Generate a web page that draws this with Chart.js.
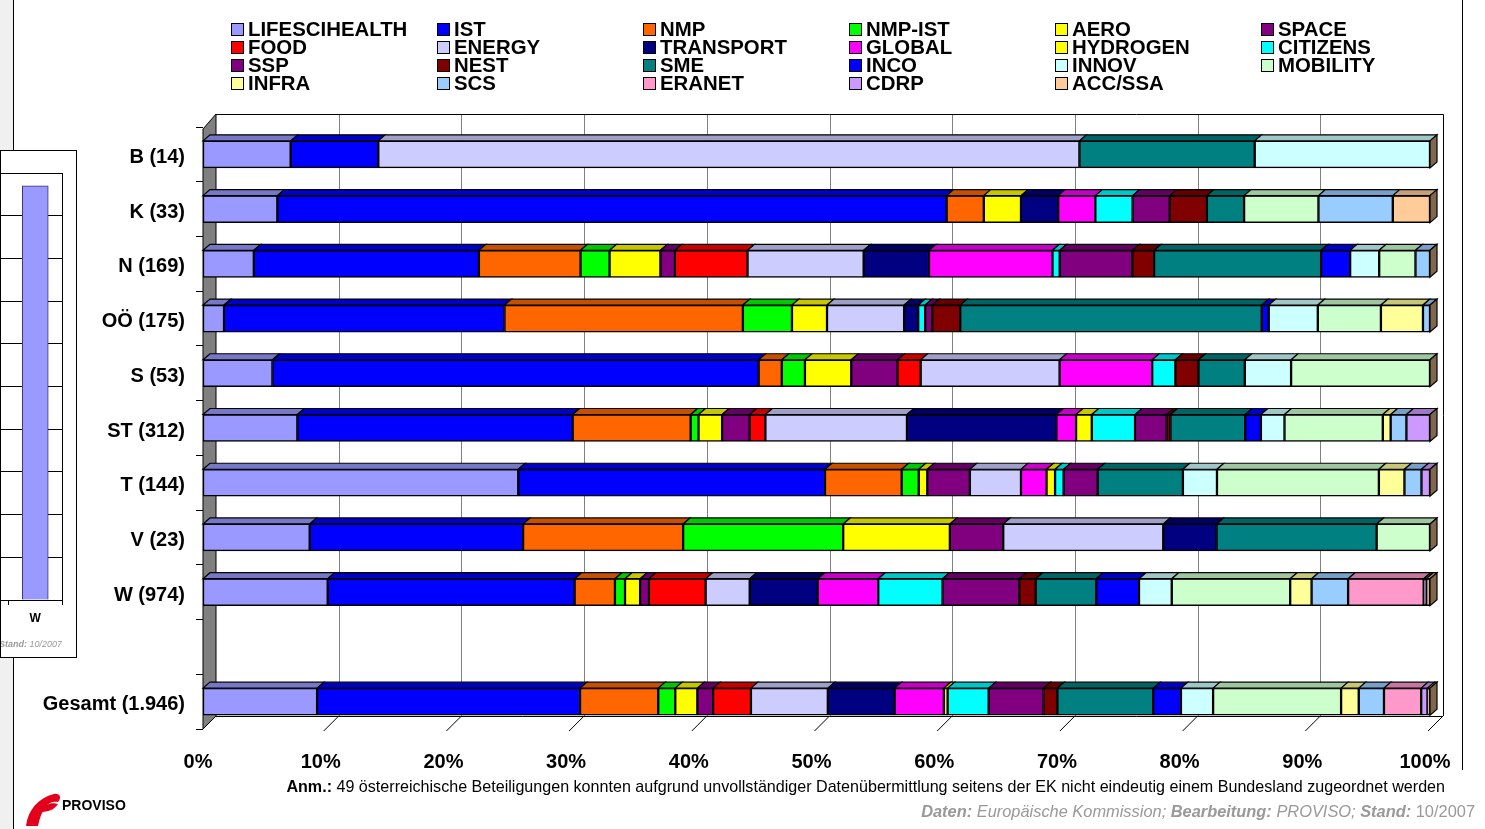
<!DOCTYPE html>
<html>
<head>
<meta charset="utf-8">
<script src="https://cdn.jsdelivr.net/npm/chart.js@4.4.0/dist/chart.umd.min.js"></script>
<style>
  html, body { margin: 0; padding: 0; background: #fff; }
  body { width: 1485px; height: 829px; position: relative; overflow: hidden; font-family: "Liberation Sans", Arial, sans-serif; }
  #leftStrip { position: absolute; left: 0; top: 0; width: 13px; height: 829px; background: #f0f0f0; border-right: 1px solid #000; }
  #rightLine { position: absolute; left: 1462px; top: 0; width: 1px; height: 770px; background: #000; }
  #main { position: absolute; left: 0; top: 0; width: 1485px; height: 829px; }
  #legend { position: absolute; left: 231px; top: 20px; display: grid; grid-template-columns: repeat(6, 206px); grid-auto-rows: 18px; }
  .item { display: flex; align-items: center; font-weight: bold; font-size: 20.4px; line-height: 18px; color: #000; white-space: nowrap; }
  .box { width: 11px; height: 11px; border: 1.5px solid #000; margin-right: 4px; flex: none; }
  #mini { position: absolute; left: 0; top: 150px; width: 75px; height: 506px; border: 1px solid #000; background: #fff; overflow: hidden; }
  #miniWrap { position: absolute; left: -140px; top: 0; width: 215px; height: 506px; }
  #miniStand { position: absolute; right: 14px; top: 488px; font-size: 9px; font-style: italic; color: #999; white-space: nowrap; }
  #anm { position: absolute; right: 40px; top: 777px; font-size: 16.1px; color: #000; white-space: nowrap; }
  #daten { position: absolute; right: 10px; top: 802px; font-size: 16.4px; color: #999; font-style: italic; white-space: nowrap; }
  #daten span { font-style: normal; }
  #logo { position: absolute; left: 24px; top: 788px; }
  #logoText { position: absolute; left: 62px; top: 797px; font-size: 14px; font-weight: bold; color: #000; }
</style>
</head>
<body>
<div id="leftStrip"></div>
<div id="rightLine"></div>
<div id="mini">
  <div id="miniWrap"><canvas id="miniChart"></canvas></div>
  <div id="miniStand"><b>Stand:</b> 10/2007</div>
</div>
<div id="main"><canvas id="chart"></canvas></div>
<div id="legend"></div>
<div id="anm"><b>Anm.:</b> 49 österreichische Beteiligungen konnten aufgrund unvollständiger Datenübermittlung seitens der EK nicht eindeutig einem Bundesland zugeordnet werden</div>
<div id="daten"><b>Daten:</b> Europäische Kommission; <b>Bearbeitung:</b> PROVISO; <b>Stand:</b> <span>10/2007</span></div>
<svg id="logo" width="40" height="40" viewBox="0 0 40 40">
  <path d="M2 38 C4 22 14 10 30 6 C36 5 38 10 34 14 C26 12 18 18 14 38 Z" fill="#e3001b"/>
  <path d="M16 24 C20 16 28 14 34 16 C30 22 24 24 16 24 Z" fill="#e3001b"/>
</svg>
<div id="logoText">PROVISO</div>
<script>
// categories (empty slot = gap before the total)
const categories = ['B (14)', 'K (33)', 'N (169)', 'OÖ (175)', 'S (53)', 'ST (312)', 'T (144)', 'V (23)', 'W (974)', '', 'Gesamt (1.946)'];
const xTicks = [0, 10, 20, 30, 40, 50, 60, 70, 80, 90, 100];

// number of participations per programme, same order as categories
const LIFESCIHEALTH = [1, 2, 7, 3, 3, 24, 37, 2, 99, null, 181];
const IST           = [1, 18, 31, 40, 21, 70, 36, 4, 196, null, 417];
const NMP           = [0, 1, 14, 34, 1, 30, 9, 3, 32, null, 124];
const NMP_IST       = [0, 0, 4, 7, 1, 2, 2, 3, 8, null, 27];
const AERO          = [0, 1, 7, 5, 2, 6, 1, 2, 12, null, 35];
const SPACE         = [0, 0, 2, 0, 2, 7, 5, 1, 7, null, 25];
const FOOD          = [0, 0, 10, 0, 1, 4, 0, 0, 45, null, 60];
const ENERGY        = [8, 0, 16, 11, 6, 36, 6, 3, 35, null, 122];
const TRANSPORT     = [0, 1, 9, 2, 0, 38, 0, 1, 54, null, 106];
const GLOBAL        = [0, 1, 17, 0, 4, 5, 3, 0, 48, null, 78];
const HYDROGEN      = [0, 0, 0, 0, 0, 4, 1, 0, 0, null, 6];
const CITIZENS      = [0, 1, 1, 1, 1, 11, 1, 0, 51, null, 65];
const SSP           = [0, 1, 10, 1, 0, 8, 4, 0, 61, null, 87];
const NEST          = [0, 1, 3, 4, 1, 1, 0, 0, 13, null, 22];
const SME           = [2, 1, 23, 43, 2, 19, 10, 3, 48, null, 152];
const INCO          = [0, 0, 4, 1, 0, 4, 0, 0, 34, null, 44];
const INNOV         = [2, 0, 4, 7, 2, 6, 4, 0, 26, null, 51];
const MOBILITY      = [0, 2, 5, 9, 6, 25, 19, 1, 94, null, 203];
const INFRA         = [0, 0, 0, 6, 0, 2, 3, 0, 17, null, 28];
const SCS           = [0, 2, 2, 1, 0, 4, 2, 0, 29, null, 40];
const ERANET        = [0, 0, 0, 0, 0, 0, 0, 0, 60, null, 59];
const CDRP          = [0, 0, 0, 0, 0, 6, 1, 0, 2, null, 10];
const ACC_SSA       = [0, 1, 0, 0, 0, 0, 0, 0, 3, null, 4];

// small chart cut off at the left edge
const miniLabels = ['', 'W'];
const miniValues = [null, 97];

const series = [
  ['LIFESCIHEALTH', LIFESCIHEALTH, '#9999FF'],
  ['IST', IST, '#0000FF'],
  ['NMP', NMP, '#FF6600'],
  ['NMP-IST', NMP_IST, '#00FF00'],
  ['AERO', AERO, '#FFFF00'],
  ['SPACE', SPACE, '#800080'],
  ['FOOD', FOOD, '#FF0000'],
  ['ENERGY', ENERGY, '#CCCCFF'],
  ['TRANSPORT', TRANSPORT, '#000080'],
  ['GLOBAL', GLOBAL, '#FF00FF'],
  ['HYDROGEN', HYDROGEN, '#FFFF00'],
  ['CITIZENS', CITIZENS, '#00FFFF'],
  ['SSP', SSP, '#800080'],
  ['NEST', NEST, '#800000'],
  ['SME', SME, '#008080'],
  ['INCO', INCO, '#0000FF'],
  ['INNOV', INNOV, '#CCFFFF'],
  ['MOBILITY', MOBILITY, '#CCFFCC'],
  ['INFRA', INFRA, '#FFFF99'],
  ['SCS', SCS, '#99CCFF'],
  ['ERANET', ERANET, '#FF99CC'],
  ['CDRP', CDRP, '#CC99FF'],
  ['ACC/SSA', ACC_SSA, '#FFCC99']
];

const FONT = '"Liberation Sans", Arial, sans-serif';
const DX = 7, DY = 6;          // depth of the bars
const WX = 13, WY = 13;        // depth of walls / floor

// legend (html grid, 6 columns, row-wise like the original)
const legendEl = document.getElementById('legend');
series.forEach(s => {
  const d = document.createElement('div');
  d.className = 'item';
  d.innerHTML = '<span class="box" style="background:' + s[2] + '"></span>' + s[0];
  legendEl.appendChild(d);
});

// row totals -> shares in %
const totals = categories.map((c, i) => {
  let t = 0;
  series.forEach(s => { t += s[1][i] || 0; });
  return t;
});

function shade(hex, f) {
  const n = parseInt(hex.slice(1), 16);
  const r = Math.round(((n >> 16) & 255) * f);
  const g = Math.round(((n >> 8) & 255) * f);
  const b = Math.round((n & 255) * f);
  return 'rgb(' + r + ',' + g + ',' + b + ')';
}

const datasets = series.map(s => ({
  label: s[0],
  data: s[1].map((v, i) => (v ? v / totals[i] * 100 : null)),
  backgroundColor: s[2],
  borderColor: '#000',
  borderWidth: 1.5,
  borderSkipped: false,
  barThickness: 27
}));

// back wall, left wall and floor
const wallsPlugin = {
  id: 'walls',
  beforeDatasetsDraw(chart) {
    const ctx = chart.ctx;
    const a = chart.chartArea;
    const x = chart.scales.x;
    ctx.save();
    ctx.lineWidth = 1;
    // grid lines on the back wall
    ctx.strokeStyle = '#808080';
    xTicks.slice(1, -1).forEach(v => {
      const px = Math.round(x.getPixelForValue(v) + WX) + 0.5;
      ctx.beginPath();
      ctx.moveTo(px, a.top - WY);
      ctx.lineTo(px, a.bottom - WY);
      ctx.stroke();
    });
    // back wall outline
    ctx.strokeStyle = '#000';
    ctx.beginPath();
    ctx.moveTo(a.left + WX, a.top - WY + 0.5);
    ctx.lineTo(a.right + WX + 0.5, a.top - WY + 0.5);
    ctx.lineTo(a.right + WX + 0.5, a.bottom - WY);
    ctx.stroke();
    // floor
    ctx.beginPath();
    ctx.moveTo(a.left + WX, a.bottom - WY + 0.5);
    ctx.lineTo(a.right + WX, a.bottom - WY + 0.5);
    ctx.stroke();
    xTicks.slice(1).forEach(v => {
      const px = x.getPixelForValue(v);
      ctx.beginPath();
      ctx.moveTo(px + WX, a.bottom - WY);
      ctx.lineTo(px - 2, a.bottom + 2);
      ctx.stroke();
    });
    // left wall
    ctx.fillStyle = '#808080';
    ctx.beginPath();
    ctx.moveTo(a.left, a.top + 2);
    ctx.lineTo(a.left + WX, a.top - WY);
    ctx.lineTo(a.left + WX, a.bottom - WY);
    ctx.lineTo(a.left, a.bottom);
    ctx.closePath();
    ctx.fill();
    ctx.stroke();
    ctx.restore();
  }
};

// top faces and the right end face of each stacked bar
const depthPlugin = {
  id: 'depth',
  afterDatasetsDraw(chart) {
    const ctx = chart.ctx;
    ctx.save();
    ctx.lineWidth = 1.2;
    ctx.strokeStyle = '#000';
    const ends = {};
    chart.data.datasets.forEach((ds, di) => {
      const meta = chart.getDatasetMeta(di);
      meta.data.forEach((el, i) => {
        if (ds.data[i] == null) return;
        const p = el.getProps(['x', 'y', 'base', 'height'], true);
        const top = p.y - p.height / 2;
        const x1 = Math.min(p.base, p.x), x2 = Math.max(p.base, p.x);
        ctx.fillStyle = shade(ds.backgroundColor, 0.78);
        ctx.beginPath();
        ctx.moveTo(x1, top);
        ctx.lineTo(x1 + DX, top - DY);
        ctx.lineTo(x2 + DX, top - DY);
        ctx.lineTo(x2, top);
        ctx.closePath();
        ctx.fill();
        ctx.stroke();
        if (!ends[i] || x2 >= ends[i].x) ends[i] = { x: x2, top: top, bottom: top + p.height };
      });
    });
    Object.values(ends).forEach(e => {
      ctx.fillStyle = shade('#FFCC99', 0.5);
      ctx.beginPath();
      ctx.moveTo(e.x, e.top);
      ctx.lineTo(e.x + DX, e.top - DY);
      ctx.lineTo(e.x + DX, e.bottom - DY);
      ctx.lineTo(e.x, e.bottom);
      ctx.closePath();
      ctx.fill();
      ctx.stroke();
    });
    ctx.restore();
  }
};

new Chart(document.getElementById('chart'), {
  type: 'bar',
  data: { labels: categories, datasets: datasets },
  plugins: [wallsPlugin, depthPlugin],
  options: {
    indexAxis: 'y',
    responsive: true,
    maintainAspectRatio: false,
    animation: false,
    layout: { padding: { top: 127, right: 55, left: 0, bottom: 0 } },
    scales: {
      x: {
        stacked: true,
        min: 0,
        max: 100,
        afterFit: s => { s.height = 100; },
        afterBuildTicks: s => { s.ticks = xTicks.map(v => ({ value: v })); },
        grid: { display: false, drawTicks: false },
        border: { display: false },
        ticks: {
          padding: 21,
          labelOffset: -5,
          color: '#000',
          font: { family: FONT, size: 20, weight: 'bold' },
          callback: v => v + '%'
        }
      },
      y: {
        stacked: true,
        afterFit: s => { s.width = 203; },
        grid: { drawOnChartArea: false, tickLength: 7, color: '#000', offset: true },
        border: { display: false },
        ticks: {
          padding: 11,
          labelOffset: 3,
          color: '#000',
          font: { family: FONT, size: 20, weight: 'bold' }
        }
      }
    },
    plugins: {
      legend: { display: false },
      tooltip: {
        callbacks: {
          label: c => c.dataset.label + ': ' + c.raw.toFixed(1) + '%'
        }
      }
    }
  }
});

// partial chart at the left border
const frame = {
  id: 'frame',
  afterDraw(chart) {
    const a = chart.chartArea, ctx = chart.ctx;
    ctx.save();
    ctx.strokeStyle = '#000';
    ctx.lineWidth = 1;
    ctx.strokeRect(Math.round(a.left) + 0.5, Math.round(a.top) + 0.5, Math.round(a.right - a.left), Math.round(a.bottom - a.top));
    ctx.restore();
  }
};

new Chart(document.getElementById('miniChart'), {
  type: 'bar',
  data: {
    labels: miniLabels,
    datasets: [{ data: miniValues, backgroundColor: '#9999FF', borderColor: '#333366', borderWidth: 1, barThickness: 26 }]
  },
  plugins: [frame],
  options: {
    responsive: true,
    maintainAspectRatio: false,
    animation: false,
    layout: { padding: { top: 22, right: 14, left: 0, bottom: 0 } },
    scales: {
      y: {
        min: 0, max: 100,
        afterFit: s => { s.width = 94; },
        ticks: { display: false, stepSize: 10 },
        grid: { color: '#000', drawTicks: false },
        border: { display: false }
      },
      x: {
        afterFit: s => { s.height = 57; },
        grid: { drawOnChartArea: false, tickLength: 5, color: '#000', offset: true },
        border: { display: false },
        ticks: { padding: 6, color: '#000', font: { family: FONT, size: 12, weight: 'bold' } }
      }
    },
    plugins: { legend: { display: false }, tooltip: { enabled: false } }
  }
});
</script>
</body>
</html>
